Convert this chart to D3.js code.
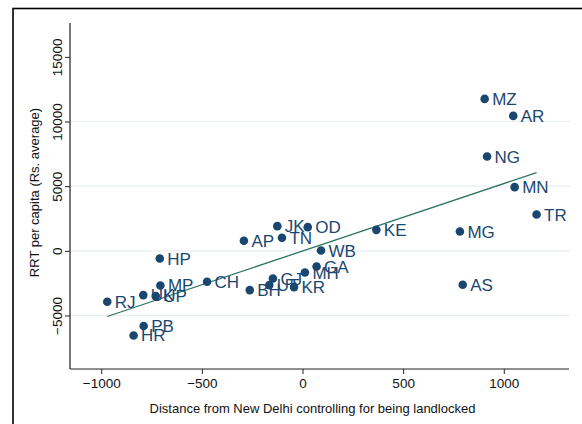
<!DOCTYPE html>
<html><head><meta charset="utf-8">
<script src="https://cdn.jsdelivr.net/npm/d3@7/dist/d3.min.js"></script>
<style>body{margin:0;background:#fff}svg{display:block}text{font-family:"Liberation Sans",Arial,Helvetica,sans-serif}</style>
</head><body><svg id="c" width="582" height="424"></svg>
<script>
const states = ["MZ","AR","NG","MN","TR","MG","AS","KE","OD","WB","GA","MH","KR","JK","TN","AP","HP","CH","MP","UK","UP","RJ","PB","HR","BH","GJ","UT"];
const distance = [905,1047,917,1054,1163,782,796,367,26,92,70,12,-42,-125,-102,-291,-709,-474,-706,-791,-729,-970,-789,-839,-262,-147,-165];
const rrt = [11750,10435,7290,4924,2806,1492,-2628,1623,1832,23,-1213,-1677,-2806,1909,1005,773,-595,-2396,-2682,-3424,-3501,-3942,-5820,-6547,-3038,-2141,-2651];
const fitX = [-970,1163];
const fitY = [-5080,6053];
const xTicks = [-1000,-500,0,500,1000];
const yTicks = [-5000,0,5000,10000,15000];
const gridTicks = [-5000,0,5000,10000];
const xTitle = "Distance from New Delhi controlling for being landlocked";
const yTitle = "RRT per capita (Rs. average)";

const svg = d3.select("#c");
const navy = "#1a476f";
const x = d3.scaleLinear().domain([-1155,1324]).range([70,569]);
const y = d3.scaleLinear().domain([-9140,17620]).range([369,23]);
const fmt = d => d < 0 ? "\u2212" + Math.abs(d) : String(d);

// outer frame
svg.append("rect").attr("x",13).attr("y",8.5).attr("width",600).attr("height",440)
  .attr("fill","none").attr("stroke","#000").attr("stroke-width",1.6);

// grid
svg.append("g").selectAll("line").data(gridTicks).join("line")
  .attr("x1",70).attr("x2",570).attr("y1",d=>y(d)).attr("y2",d=>y(d))
  .attr("stroke","#e8f0f0").attr("stroke-width",1.2);

// axes
const xa = svg.append("g").attr("transform","translate(0,369)")
  .call(d3.axisBottom(x).tickValues(xTicks).tickFormat(fmt).tickSize(5).tickPadding(3).tickSizeOuter(0));
const ya = svg.append("g").attr("transform","translate(70,0)")
  .call(d3.axisLeft(y).tickValues(yTicks).tickFormat(fmt).tickSize(5).tickPadding(3).tickSizeOuter(0));
[xa,ya].forEach(a=>{
  a.select(".domain").attr("stroke","#222").attr("stroke-width",1.2);
  a.selectAll(".tick line").attr("stroke","#222");
  a.selectAll(".tick text").attr("fill","#111").style("font-size","13.5px");
});
ya.select(".domain").attr("d","M0,23V369");
xa.select(".domain").attr("d","M70,0H569");
xa.selectAll(".tick text").attr("dy",null).attr("y",18.5);
ya.selectAll(".tick text").attr("x",null).attr("dy",null)
  .attr("text-anchor","middle").attr("transform","translate(-8,0) rotate(-90)");

// titles
svg.append("text").attr("x",312.5).attr("y",413).attr("text-anchor","middle")
  .style("font-size","13px").attr("fill","#111").text(xTitle);
svg.append("text").attr("transform","translate(39,192.5) rotate(-90)").attr("text-anchor","middle")
  .style("font-size","13px").attr("fill","#111").text(yTitle);

// fit line
svg.append("line").attr("x1",x(fitX[0])).attr("y1",y(fitY[0])).attr("x2",x(fitX[1])).attr("y2",y(fitY[1]))
  .attr("stroke","#2a7461").attr("stroke-width",1.3);

// points + labels
const pts = states.map((s,i)=>({s, dx:distance[i], r:rrt[i]}));
const g = svg.append("g");
pts.forEach(p=>{
  g.append("circle").attr("cx",x(p.dx)).attr("cy",y(p.r)).attr("r",4.3).attr("fill",navy);
  g.append("text").attr("x",x(p.dx)+7.5).attr("y",y(p.r)+6).attr("fill",navy)
    .style("font-size","17px").text(p.s);
});
</script></body></html>
